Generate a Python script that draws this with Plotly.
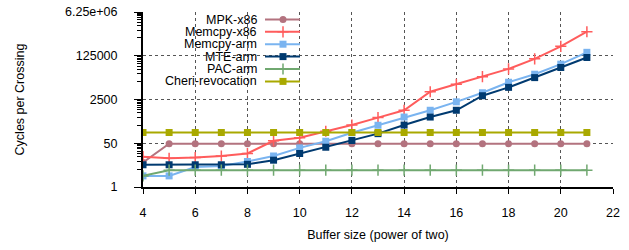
import plotly.graph_objects as go
import math

# ---- data ----
buffer_pow = list(range(4, 22))
mpk_x86 = [9] + [48] * 17
memcpy_x86 = [15, 13, 14, 16, 20, 62, 82, 146, 254, 495, 955, 5000, 9700, 19300, 38600, 95000, 290000, 1070000]
memcpy_arm = [2.7, 2.7, 6, 6.5, 9.8, 16, 33, 60, 127, 250, 520, 955, 2030, 4570, 11700, 24000, 59000, 170000]
mte_arm = [7.3, 7.3, 7.3, 7.3, 7.6, 11, 20, 35, 64, 118, 254, 520, 955, 3500, 7400, 17700, 43700, 107000]
pac_arm = [2.7] + [4.5] * 17
cheri_rev = [131] * 18

series_names = ["MPK-x86", "Memcpy-x86", "Memcpy-arm", "MTE-arm", "PAC-arm", "Cheri-revocation"]
series_vals = [mpk_x86, memcpy_x86, memcpy_arm, mte_arm, pac_arm, cheri_rev]
colors = ["#b3737f", "#ff5c5c", "#7ab4f0", "#003a70", "#70a870", "#a9a900"]
symbols = ["circle", "cross-thin", "square", "square", "cross-thin", "square"]
sizes = [7, 8, 7, 7, 8, 7]
mline = [0, 1.5, 0, 0, 1.5, 0]

ytick_vals = [1, 50, 2500, 125000, 6250000]
ytick_text = ["1", "50", "2500", "125000", "6.25e+06"]
xtick_vals = list(range(4, 23, 2))

minor_vals = []
for b in ytick_vals[:-1]:
    for k in range(5, 50, 5):
        minor_vals.append(b * k)

FONT = "Liberation Sans, Arial, sans-serif"
FS = 12.5

fig = go.Figure()
for name, vals, c, s, sz, mw in zip(series_names, series_vals, colors, symbols, sizes, mline):
    fig.add_trace(go.Scatter(
        x=buffer_pow, y=vals, mode="lines+markers", name=name,
        line=dict(color=c, width=2),
        marker=dict(symbol=s, size=sz, color=c, line=dict(color=c, width=mw)),
        showlegend=False,
    ))

# legend drawn on an overlay axis in pixel-like units
leg_rows = [19.5, 31.8, 44.2, 56.6, 69, 81.4]
for name, c, s, sz, mw, yy in zip(series_names, colors, symbols, sizes, mline, leg_rows):
    fig.add_trace(go.Scatter(
        x=[265, 283, 300], y=[yy, yy, yy], xaxis="x2", yaxis="y2",
        mode="lines", line=dict(color=c, width=2), showlegend=False, hoverinfo="skip",
    ))
    fig.add_trace(go.Scatter(
        x=[283], y=[yy], xaxis="x2", yaxis="y2", mode="markers",
        marker=dict(symbol=s, size=sz, color=c, line=dict(color=c, width=mw)),
        showlegend=False, hoverinfo="skip",
    ))
    fig.add_annotation(x=259, y=yy, xref="x2", yref="y2", text=name, showarrow=False,
                       xanchor="right", yanchor="middle",
                       font=dict(family=FONT, size=FS, color="#000"))

fig.update_layout(
    width=629, height=250,
    margin=dict(l=143, r=16, t=12, b=63, autoexpand=False),
    paper_bgcolor="white", plot_bgcolor="white",
    font=dict(family=FONT, size=FS, color="#000"),
    showlegend=False,
    xaxis=dict(
        range=[4, 22], tickvals=xtick_vals, ticks="outside", ticklen=5, tickwidth=1,
        tickcolor="#000", showline=True, linecolor="#000", linewidth=2,
        showgrid=True, gridcolor="#555", griddash="dot", gridwidth=1,
        zeroline=False, ticklabelstandoff=8, automargin=False,
        title=dict(text="Buffer size (power of two)", standoff=11, font=dict(size=FS)),
    ),
    yaxis=dict(
        type="log", range=[0, math.log10(6250000)],
        tickvals=ytick_vals, ticktext=ytick_text, ticks="outside", ticklen=7,
        tickcolor="#000", showline=True, linecolor="#000", linewidth=2,
        showgrid=True, gridcolor="#555", griddash="dot", gridwidth=1,
        ticklabelstandoff=14, automargin=False,
        minor=dict(tickvals=minor_vals, ticks="outside", ticklen=4, tickcolor="#000", showgrid=False),
        title=dict(text="Cycles per Crossing", standoff=38, font=dict(size=FS)),
    ),
    xaxis2=dict(overlaying="x", range=[143, 613], visible=False, fixedrange=True),
    yaxis2=dict(overlaying="y", range=[187, 12], visible=False, fixedrange=True),
)

fig.write_html("out.html", config={"displayModeBar": False},
               post_script="document.body.style.margin='0';document.body.style.padding='0';")
